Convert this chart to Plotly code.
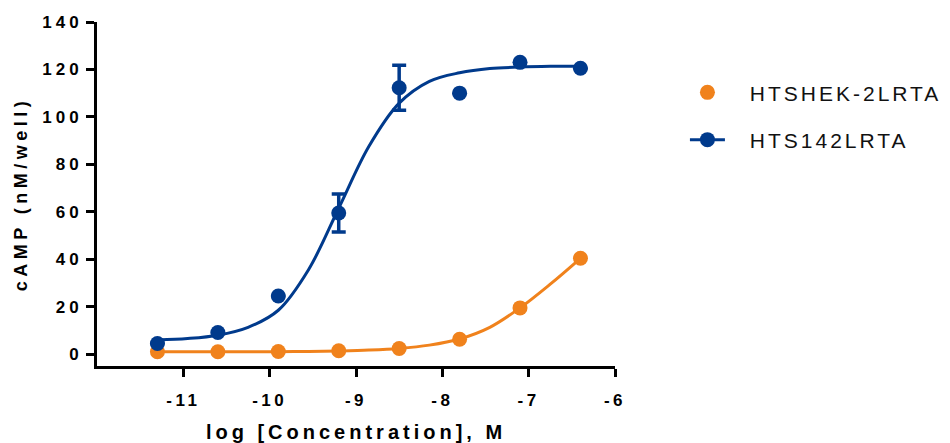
import plotly.graph_objects as go

# ---- data ----
log_conc = [-11.3, -10.6, -9.9, -9.2, -8.5, -7.8, -7.1, -6.4]

hek_name = "HTSHEK-2LRTA"
hek_camp = [1.0, 1.0, 1.1, 1.4, 2.4, 6.3, 19.5, 40.4]

s142_name = "HTS142LRTA"
s142_camp = [4.5, 9.1, 24.5, 59.5, 112.3, 110.0, 123.0, 120.5]
s142_err = [None, None, None, 8.0, 9.5, None, None, None]

# fitted curves at intermediate concentrations
curve_x = [-11.3, -10.95, -10.6, -10.25, -9.9, -9.55, -9.2, -8.85,
           -8.5, -8.15, -7.8, -7.45, -7.1, -6.75, -6.4]
s142_curve = [6.0, 6.6, 8.0, 11.3, 18.5, 35.6, 61.5, 87.6,
              105.8, 115.0, 118.6, 120.4, 121.0, 121.3, 121.4]
hek_curve = [1.0, 1.0, 1.0, 1.0, 1.05, 1.15, 1.35, 1.7,
             2.4, 3.8, 6.4, 11.3, 19.5, 29.5, 40.4]

x_ticks = [-11, -10, -9, -8, -7, -6]
y_ticks = [0, 20, 40, 60, 80, 100, 120, 140]

x_title = "log [Concentration], M"
y_title = "cAMP (nM/well)"

BLUE = "#003a8c"
ORANGE = "#f0821c"
FONT = "Liberation Sans, Arial, sans-serif"


def spaced(text, px, bold=False):
    s = f'<span style="letter-spacing:{px}px">{text}</span>'
    return f"<b>{s}</b>" if bold else s


def legend_label(text):
    gap = '<span style="letter-spacing:14px">\u00a0</span>'
    return gap + spaced(text, 3)


fig = go.Figure()

# curves
fig.add_trace(go.Scatter(x=curve_x, y=hek_curve, mode="lines",
                         line=dict(color=ORANGE, width=3, shape="spline"),
                         showlegend=False, hoverinfo="skip"))
fig.add_trace(go.Scatter(x=curve_x, y=s142_curve, mode="lines",
                         line=dict(color=BLUE, width=3, shape="spline"),
                         showlegend=False, hoverinfo="skip"))

# points
fig.add_trace(go.Scatter(x=log_conc, y=hek_camp, mode="markers",
                         marker=dict(color=ORANGE, size=15),
                         name=legend_label(hek_name), legendgroup="a"))
fig.add_trace(go.Scatter(x=log_conc, y=s142_camp, mode="markers",
                         marker=dict(color=BLUE, size=15),
                         error_y=dict(type="data", array=s142_err, visible=True,
                                      color=BLUE, thickness=3.5, width=7),
                         showlegend=False))
# legend entry for the blue series (line + marker)
fig.add_trace(go.Scatter(x=[None], y=[None], mode="lines+markers",
                         line=dict(color=BLUE, width=3),
                         marker=dict(color=BLUE, size=15),
                         name=legend_label(s142_name), legendgroup="b"))

axis_common = dict(showline=True, linecolor="black", linewidth=3,
                   ticks="outside", ticklen=8, tickwidth=3, tickcolor="black",
                   showgrid=False, zeroline=False,
                   tickfont=dict(family=FONT, size=17, color="black"))

fig.update_xaxes(range=[-12, -6], tickvals=x_ticks,
                 ticktext=[spaced(str(v), 3.5, True) for v in x_ticks],
                 ticklabelstandoff=9,
                 title=dict(text=spaced(x_title, 4, True), standoff=18,
                            font=dict(family=FONT, size=20, color="black")),
                 **axis_common)
fig.update_yaxes(range=[-5, 140], tickvals=y_ticks,
                 ticktext=[spaced(str(v), 4, True) for v in y_ticks],
                 title=dict(text=spaced(y_title, 4.5, True), standoff=10,
                            font=dict(family=FONT, size=18, color="black")),
                 **axis_common)

fig.update_layout(
    width=950, height=443,
    margin=dict(l=97, r=335, t=22, b=77, autoexpand=False),
    paper_bgcolor="white", plot_bgcolor="white",
    font=dict(family=FONT, color="black"),
    legend=dict(x=1.135, y=0.854, xanchor="left", yanchor="top",
                font=dict(family=FONT, size=21, color="#111111"),
                itemwidth=35, tracegroupgap=17, traceorder="grouped",
                bgcolor="rgba(0,0,0,0)"),
)

fig.write_html("out.html",
               config={"displayModeBar": False},
               post_script="document.body.style.margin='0';")
